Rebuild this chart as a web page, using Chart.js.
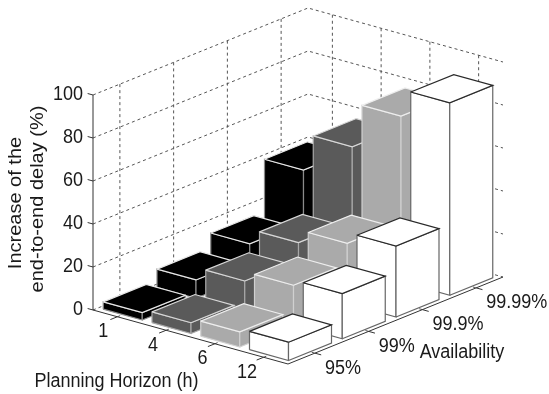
<!DOCTYPE html>
<html>
<head>
<meta charset="utf-8">
<title>Increase of the end-to-end delay</title>
<script src="https://cdn.jsdelivr.net/npm/chart.js@4"></script>
<style>
  html, body { margin: 0; padding: 0; background: #fff; }
  #wrap { position: relative; width: 549px; height: 394px; }
</style>
</head>
<body>
<div id="wrap"><canvas id="barChart" width="549" height="394"></canvas></div>
<script>
const planningLabels = ["1", "4", "6", "12"];
const availabilityLabels = ["95%", "99%", "99.9%", "99.99%"];
const delayTicks = [0, 20, 40, 60, 80, 100];

// one list per planning horizon, in availability order
const delayH1 = [3.4, 8.5, 15.2, 39.4];
const delayH4 = [5, 14.3, 22, 56.5];
const delayH6 = [7, 18.6, 28, 77];
const delayH12 = [8.5, 21, 33, 89.5];
const delays = [delayH1, delayH4, delayH6, delayH12];

const faceColors = ["#000000", "#5a5a5a", "#aaaaaa", "#ffffff"];
const topEdges = ["#e8e8e8", "#d8d8d8", "#eeeeee", "#2a2a2a"];
const sideEdges = ["#8a8a8a", "#a8a8a8", "#d0d0d0", "#666666"];

// view of the 3d box: floor corner, one step along each axis, px per unit of height
const origin = { x: 93, y: 310 };
const planStep = { x: 48.75, y: 13.5 };
const availStep = { x: 53.75, y: -21.75 };
const heightPx = 2.15;
const barHalf = 0.4;
const lo = 0.5;
const hi = 4.5;

function project(p, a, z) {
  return {
    x: origin.x + (p - lo) * planStep.x + (a - lo) * availStep.x,
    y: origin.y + (p - lo) * planStep.y + (a - lo) * availStep.y - z * heightPx,
  };
}

const datasets = [];

function addLine(points, color, dash, width) {
  datasets.push({
    data: points,
    showLine: true,
    fill: false,
    borderColor: color,
    borderWidth: width || 1,
    borderDash: dash || [],
    pointRadius: 0,
    tension: 0,
  });
}

function addFace(points, fillColor, edgeColor) {
  datasets.push({
    data: points.concat([points[0]]),
    showLine: true,
    fill: "shape",
    backgroundColor: fillColor,
    borderColor: edgeColor,
    borderWidth: 1.2,
    pointRadius: 0,
    tension: 0,
  });
}

const gridDash = [3, 3];
const gridColor = "#555555";

// walls and floor
delayTicks.forEach((z) => {
  addLine([project(lo, lo, z), project(lo, hi, z), project(hi, hi, z)], gridColor, gridDash);
});
availabilityLabels.forEach((_, i) => {
  const a = i + 1;
  addLine([project(lo, a, 100), project(lo, a, 0), project(hi, a, 0)], gridColor, gridDash);
});
planningLabels.forEach((_, i) => {
  const p = i + 1;
  addLine([project(p, hi, 100), project(p, hi, 0), project(p, lo, 0)], gridColor, gridDash);
});

// axis lines and tick marks
const axisColor = "#333333";
addLine([project(lo, lo, 0), project(lo, lo, 100)], axisColor);
addLine([project(lo, lo, 0), project(hi, lo, 0), project(hi, hi, 0)], axisColor);
delayTicks.forEach((z) => {
  addLine([project(lo, lo, z), project(lo - 0.11, lo, z)], axisColor);
});
planningLabels.forEach((_, i) => {
  addLine([project(i + 1, lo, 0), project(i + 1, lo - 0.13, 0)], axisColor);
});
availabilityLabels.forEach((_, i) => {
  addLine([project(hi, i + 1, 0), project(hi + 0.13, i + 1, 0)], axisColor);
});

// bars, back to front
for (let i = availabilityLabels.length - 1; i >= 0; i--) {
  delays.forEach((series, j) => {
    const z = series[i];
    const p0 = j + 1 - barHalf, p1 = j + 1 + barHalf;
    const a0 = i + 1 - barHalf, a1 = i + 1 + barHalf;
    addFace([project(p0, a0, 0), project(p1, a0, 0), project(p1, a0, z), project(p0, a0, z)], faceColors[j], sideEdges[j]);
    addFace([project(p1, a0, 0), project(p1, a1, 0), project(p1, a1, z), project(p1, a0, z)], faceColors[j], sideEdges[j]);
    addFace([project(p0, a0, z), project(p1, a0, z), project(p1, a1, z), project(p0, a1, z)], faceColors[j], topEdges[j]);
  });
}

// the image is squeezed sideways a little, so is the text
function putText(ctx, chart, text, x, y, align, rotated) {
  const px = chart.scales.x.getPixelForValue(x);
  const py = chart.scales.y.getPixelForValue(y);
  ctx.save();
  ctx.translate(px, py);
  ctx.scale(0.9, 1);
  if (rotated) ctx.rotate(-Math.PI / 2);
  ctx.textAlign = align;
  ctx.fillText(text, 0, 0);
  ctx.restore();
}

const axisText = {
  id: "axisText",
  afterDraw(chart) {
    const ctx = chart.ctx;
    ctx.save();
    ctx.font = "20px 'Liberation Sans', Arial, sans-serif";
    ctx.fillStyle = "#1a1a1a";
    ctx.textBaseline = "middle";
    delayTicks.forEach((z) => {
      const pt = project(lo, lo, z);
      putText(ctx, chart, String(z), pt.x - 10, pt.y - 1, "right");
    });
    planningLabels.forEach((label, i) => {
      const pt = project(i + 1, lo, 0);
      putText(ctx, chart, label, pt.x - 9 + i * 0.8, pt.y + 15, "right");
    });
    availabilityLabels.forEach((label, i) => {
      const pt = project(hi, i + 1, 0);
      putText(ctx, chart, label, pt.x + 10, pt.y + 15, "left");
    });
    putText(ctx, chart, "Planning Horizon (h)", 116.5, 381, "center");
    putText(ctx, chart, "Availability", 462, 352, "center");
    putText(ctx, chart, "Increase of the", 16, 203, "center", true);
    putText(ctx, chart, "end-to-end delay (%)", 38, 199, "center", true);
    ctx.restore();
  },
};

new Chart(document.getElementById("barChart").getContext("2d"), {
  type: "scatter",
  data: { datasets: datasets.reverse() },
  options: {
    responsive: false,
    animation: false,
    layout: { padding: 0 },
    plugins: { legend: { display: false }, tooltip: { enabled: false } },
    scales: {
      x: { type: "linear", min: 0, max: 549, display: false },
      y: { type: "linear", min: 0, max: 394, reverse: true, display: false },
    },
  },
  plugins: [axisText],
});
</script>
</body>
</html>
